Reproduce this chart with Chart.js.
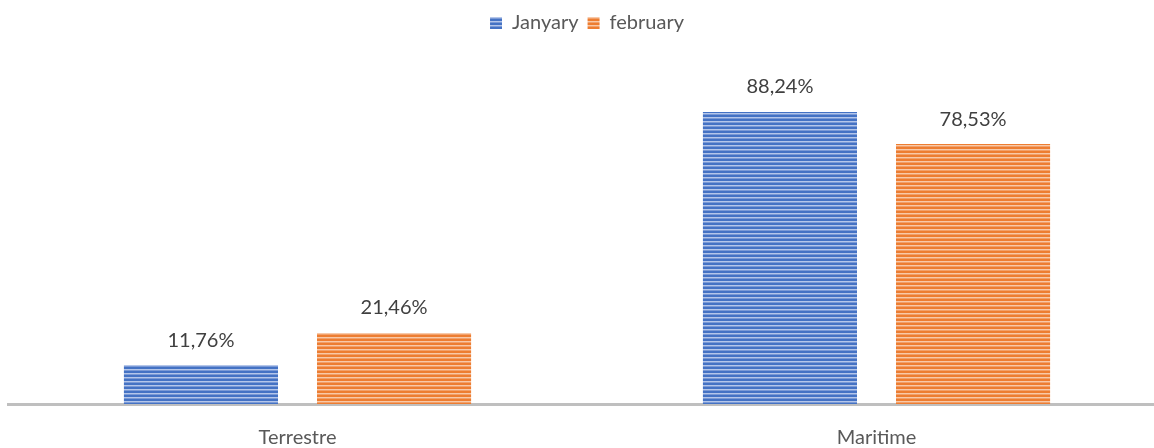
<!DOCTYPE html>
<html>
<head>
<meta charset="utf-8">
<script src="https://cdn.jsdelivr.net/npm/chart.js@4"></script>
<style>
  html, body { margin: 0; padding: 0; background: #fff; overflow: hidden; }
  #wrap { position: relative; top: 4px; width: 1166px; height: 448px; }
</style>
</head>
<body>
<div id="wrap"><canvas id="chart"></canvas></div>
<script>
// data
const categories = ["Terrestre", "Maritime"];
const seriesNames = ["Janyary", "february"];
const januaryValues = [11.76, 88.24];
const februaryValues = [21.46, 78.53];

const FONT = "Lato";

// striped fill like the excel bars
function stripes(base, light, mid) {
    const c = document.createElement("canvas");
    c.width = 4;
    c.height = 4;
    const g = c.getContext("2d");
    g.fillStyle = base;
    g.fillRect(0, 0, 4, 4);
    g.fillStyle = light;
    g.fillRect(0, 1, 4, 1);
    g.fillStyle = mid;
    g.fillRect(0, 2, 4, 1);
    return g.createPattern(c, "repeat");
}

const bluePattern = stripes("#4472c4", "#b4c6ea", "#7b9ad6");
const orangePattern = stripes("#ed7d31", "#f8c9a8", "#f2a06a");

// value labels above bars
const valueLabels = {
    id: "valueLabels",
    afterDatasetsDraw(chart) {
        const ctx = chart.ctx;
        ctx.save();
        ctx.font = "20px " + FONT;
        ctx.fillStyle = "#404040";
        ctx.textAlign = "center";
        ctx.textBaseline = "middle";
        chart.data.datasets.forEach((ds, i) => {
            chart.getDatasetMeta(i).data.forEach((bar, j) => {
                const txt = ds.data[j].toFixed(2).replace(".", ",") + "%";
                ctx.fillText(txt, bar.x, bar.y - 25);
            });
        });
        ctx.restore();
    }
};

// extra room under the legend
const legendMargin = {
    id: "legendMargin",
    beforeInit(chart) {
        const fit = chart.legend.fit;
        chart.legend.fit = function () {
            fit.bind(chart.legend)();
            this.height += 30;
        };
    }
};

new Chart(document.getElementById("chart"), {
    type: "bar",
    data: {
        labels: categories,
        datasets: [
            { label: seriesNames[0], data: januaryValues, backgroundColor: bluePattern },
            { label: seriesNames[1], data: februaryValues, backgroundColor: orangePattern }
        ]
    },
    options: {
        responsive: true,
        maintainAspectRatio: false,
        animation: false,
        categoryPercentage: 0.667,
        barPercentage: 0.798,
        layout: { padding: { left: 8, right: 0, top: 0, bottom: -20 } },
        plugins: {
            legend: {
                position: "top",
                labels: {
                    boxWidth: 12,
                    boxHeight: 12,
                    padding: 9,
                    color: "#595959",
                    font: { family: FONT, size: 20 }
                }
            },
            tooltip: { enabled: false }
        },
        scales: {
            x: {
                grid: { display: false, drawTicks: false },
                border: { color: "#bfbfbf", width: 3 },
                ticks: { color: "#595959", padding: 22, font: { family: FONT, size: 20 } }
            },
            y: {
                display: false,
                min: 0,
                max: 100
            }
        }
    },
    plugins: [valueLabels, legendMargin]
});
</script>
</body>
</html>
